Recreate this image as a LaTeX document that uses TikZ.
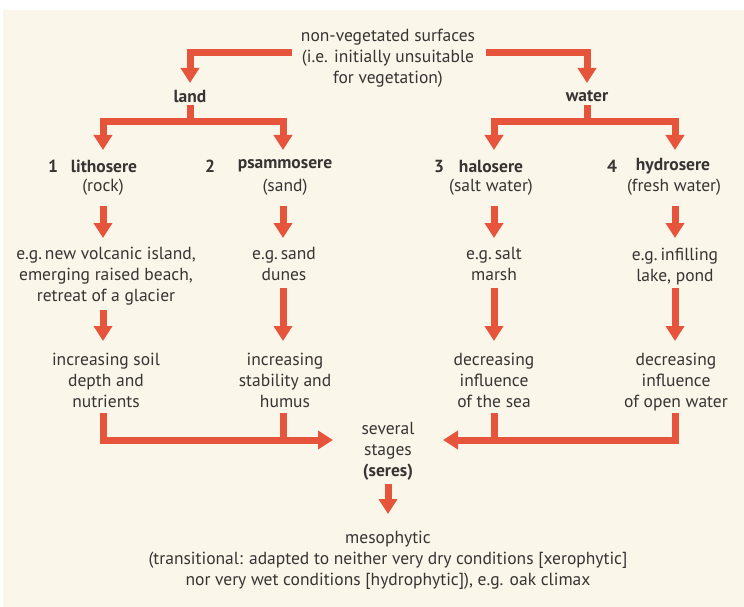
\documentclass[tikz,border=0pt]{standalone}
\usepackage{fontspec}
\setmainfont{PT Sans}
\usetikzlibrary{arrows.meta}
\definecolor{paper}{RGB}{250,246,234}
\definecolor{flow}{RGB}{231,84,60}
\definecolor{ink}{RGB}{55,52,50}
\tikzset{
  txt/.style={align=center, inner sep=0pt, text=ink, font=\fontsize{17.5}{21}\selectfont},
  head/.style={txt, font=\fontsize{17.5}{21}\selectfont\bfseries},
  bar/.style={draw=flow, line width=7pt, line join=miter},
  arr/.style={bar, -{Triangle[width=18pt,length=15pt]}},
}
\begin{document}
\begin{tikzpicture}[x=1pt,y=-1pt]
\fill[white] (0,0) rectangle (744,607);
\fill[paper] (3,10) rectangle (744,607);
\useasboundingbox (0,0) rectangle (744,607);

% top of the scheme
\node[txt] (top) at (388,58) {non-vegetated surfaces\\(i.e. initially unsuitable\\for vegetation)};
\node[head] (land) at (190,96) {land};
\node[head] (water) at (587,96) {water};

% the four seres
\node[head] (n1) at (53,166) {1};
\node[head] (h1) at (104,166) {lithosere};
\node[txt]  (s1) at (103,187) {(rock)};
\node[head] (n2) at (210,166) {2};
\node[head] (h2) at (285,166) {psammosere};
\node[txt]  (s2) at (285,187) {(sand)};
\node[head] (n3) at (439,166) {3};
\node[head] (h3) at (491,166) {halosere};
\node[txt]  (s3) at (491,187) {(salt water)};
\node[head] (n4) at (612,166) {4};
\node[head] (h4) at (673,166) {hydrosere};
\node[txt]  (s4) at (674,187) {(fresh water)};

% examples
\node[txt] (e1) at (106,276) {e.g.\,new volcanic island,\\emerging raised beach,\\retreat of a glacier};
\node[txt] (e2) at (284,264) {e.g.\,sand\\dunes};
\node[txt] (e3) at (494,264) {e.g.\,salt\\marsh};
\node[txt] (e4) at (675,267) {e.g.\,infilling\\lake, pond};

% trends
\node[txt] (t1) at (106,380) {increasing soil\\depth and\\nutrients};
\node[txt] (t2) at (285,380) {increasing\\stability and\\humus};
\node[txt] (t3) at (494,380) {decreasing\\influence\\of the sea};
\node[txt] (t4) at (676,382) {decreasing\\influence\\of open water};

% convergence and climax
\node[txt] (st) at (388,451) {several\\stages\\\textbf{(seres)}};
\node[txt] (cl) at (388,560) {mesophytic\\(transitional: adapted to neither very dry conditions [xerophytic]\\nor very wet conditions [hydrophytic]), e.g. oak climax};

% connector points
\coordinate (tl) at (292,53);
\coordinate (tr) at (486,53);
\coordinate (lt) at (190,83);
\coordinate (wt) at (587,83);
\coordinate (ls) at (190,122);
\coordinate (ws) at (587,122);
\coordinate (a1) at (103,150);
\coordinate (a2) at (283,150);
\coordinate (a3) at (494,150);
\coordinate (a4) at (675,150);
\coordinate (ml) at (333,440);
\coordinate (mr) at (443,440);

% top split
\draw[arr] (tl) -| (lt);
\draw[arr] (tr) -| (wt);
\draw[bar] (190,105) -- (ls);
\draw[bar] (587,105) -- (ws);
\draw[arr] (ls) -| (a1);
\draw[arr] (ls) -| (a2);
\draw[arr] (ws) -| (a3);
\draw[arr] (ws) -| (a4);

% seres to examples
\draw[arr] (103,206) -- (103,238);
\draw[arr] (283,206) -- (283,238);
\draw[arr] (494,206) -- (494,238);
\draw[arr] (675,206) -- (675,238);

% examples to trends
\draw[arr] (103,310) -- (103,341);
\draw[arr] (283,288) -- (283,341);
\draw[arr] (494,288) -- (494,341);
\draw[arr] (675,288) -- (675,341);

% merging into the seres
\draw[arr] (103,413) |- (ml);
\draw[bar] (283,413) -- (283,440);
\draw[arr] (675,413) |- (mr);
\draw[bar] (494,413) -- (494,440);

% to the climax
\draw[arr] (388,484) -- (388,514);
\end{tikzpicture}
\end{document}
